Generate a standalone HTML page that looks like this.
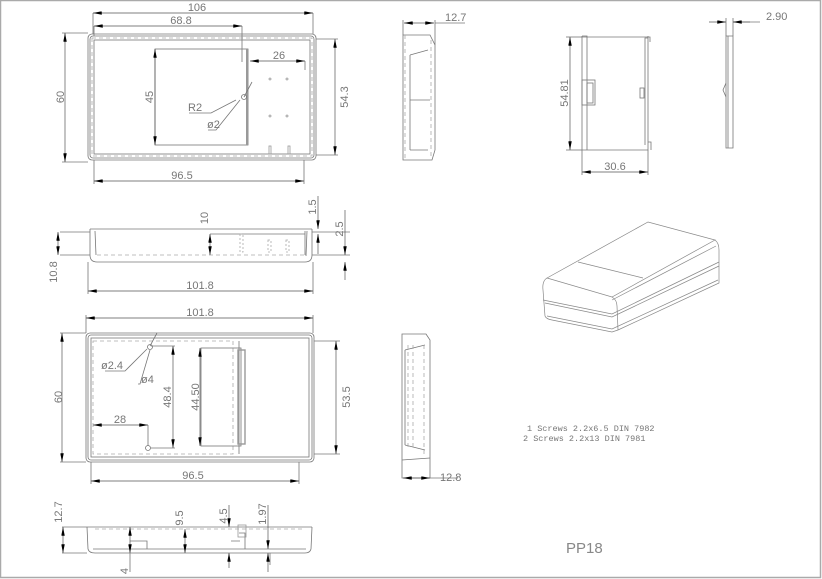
<!DOCTYPE html>
<html><head><meta charset="utf-8"><style>
html,body{margin:0;padding:0;background:#fff;}
svg{display:block}
text{font-family:"Liberation Sans",sans-serif;fill:#777;font-size:11px;}
</style></head><body>
<svg width="822" height="579" viewBox="0 0 822 579" xmlns="http://www.w3.org/2000/svg">
<defs>
<marker id="a" viewBox="0 0 10 4" refX="10" refY="2" markerWidth="9" markerHeight="3.5" orient="auto-start-reverse" markerUnits="userSpaceOnUse"><path d="M0,0L10,2L0,4z" fill="#000"/></marker>
</defs>
<rect x="0.5" y="0.5" width="820" height="577" fill="none" stroke="#aaa" stroke-width="1.5"/>
<g fill="none" stroke="#777" stroke-width="0.8">
<!-- VIEW 1 -->
<rect x="88" y="34" width="228" height="126" rx="4"/>
<rect x="90" y="36" width="224" height="122" rx="3"/>
<rect x="92" y="38" width="220" height="118" stroke-dasharray="4,3" stroke="#aaa"/>
<rect x="94" y="40" width="216" height="114"/>
<rect x="155" y="49" width="93" height="96"/>
<line x1="247" y1="49" x2="247" y2="145" stroke="#999" stroke-width="2"/>
<line x1="242" y1="26" x2="242" y2="62"/>
<line x1="94" y1="26" x2="94" y2="36"/>
<line x1="93" y1="13" x2="93" y2="34"/><line x1="313" y1="13" x2="313" y2="34"/>
<line x1="94" y1="160" x2="94" y2="184"/><line x1="304" y1="160" x2="304" y2="184"/>
<line x1="316" y1="39" x2="338" y2="39"/><line x1="316" y1="155" x2="338" y2="155"/>
<line x1="62" y1="33" x2="88" y2="33"/><line x1="62" y1="162" x2="88" y2="162"/>
<line x1="305" y1="61" x2="305" y2="70"/>
<circle cx="244" cy="97" r="2.5"/>
<path d="M189,113L211,113L236,100M208,130L216,130L240,100M244,97L252,82"/>
<g stroke="#999"><circle cx="270" cy="79" r="1"/><circle cx="287" cy="79" r="1"/><circle cx="270" cy="116" r="1"/><circle cx="287" cy="116" r="1"/>
<rect x="269" y="146" width="2" height="8"/><rect x="288" y="146" width="2" height="8"/></g>
<!-- VIEW 2 side -->
<line x1="90" y1="229" x2="312" y2="229"/>
<path d="M90,229L90,255Q90,262 97,262L305,262Q312,262 312,255L312,229"/>
<line x1="97" y1="255" x2="305" y2="255" stroke-dasharray="4,3" stroke="#aaa"/>
<line x1="210" y1="234" x2="305" y2="234"/>
<path d="M95,231L96,255M305,231L305,255M307,231L306,256"/>
<line x1="60" y1="232" x2="90" y2="232"/><line x1="60" y1="255" x2="90" y2="255"/>
<line x1="88" y1="262" x2="88" y2="294"/><line x1="313" y1="262" x2="313" y2="294"/>
<line x1="312" y1="232" x2="350" y2="232"/><line x1="312" y1="255" x2="350" y2="255"/>
<g stroke="#aaa" stroke-dasharray="2,2"><rect x="240" y="234" width="3" height="18"/><rect x="268" y="240" width="3" height="12"/><rect x="286" y="240" width="3" height="12"/></g>
<!-- VIEW 3 -->
<rect x="86" y="333" width="228" height="129" rx="4"/>
<rect x="88" y="335" width="224" height="125" rx="3"/>
<rect x="91" y="338" width="218" height="119"/>
<rect x="93" y="341" width="140" height="113" stroke-dasharray="4,3" stroke="#aaa"/>
<line x1="239" y1="341" x2="239" y2="454"/>
<rect x="201" y="348" width="40" height="98"/>
<rect x="238" y="350" width="7" height="94" stroke="#999" stroke-width="1.4"/>
<circle cx="150" cy="347" r="2.5"/><circle cx="148" cy="448" r="2.5"/>
<path d="M105,371L125,371L147,349M138,384L140,384L150,350M150,346L157,333"/>
<line x1="151" y1="346" x2="175" y2="346"/><line x1="151" y1="448" x2="175" y2="448"/>
<line x1="148" y1="425" x2="148" y2="446"/>
<line x1="86" y1="315" x2="86" y2="333"/><line x1="313" y1="315" x2="313" y2="333"/>
<line x1="91" y1="462" x2="91" y2="484"/><line x1="299" y1="462" x2="299" y2="484"/>
<line x1="60" y1="333" x2="86" y2="333"/><line x1="60" y1="462" x2="86" y2="462"/>
<line x1="314" y1="341" x2="340" y2="341"/><line x1="314" y1="454" x2="340" y2="454"/>
<!-- VIEW 4 -->
<line x1="87" y1="527" x2="312" y2="527"/>
<path d="M87,527L88,549Q89,553 95,553L305,553Q310,553 311,549L312,527"/>
<line x1="95" y1="529" x2="305" y2="529" stroke-dasharray="4,3" stroke="#aaa"/>
<line x1="93" y1="549" x2="306" y2="549"/>
<path d="M130,541L147,541L147,549M239,533L245,533L245,549M231,541L240,541"/>
<rect x="238" y="525" width="8" height="12" stroke="#999"/>
<line x1="62" y1="527" x2="87" y2="527"/><line x1="62" y1="553" x2="87" y2="553"/>
<line x1="130" y1="553" x2="130" y2="572"/><line x1="270" y1="553" x2="270" y2="565"/>
<!-- right side views -->
<path d="M403,35L403,160L432,160L435,150L435,45L430,35Z"/>
<path d="M405,35L405,160M431,40L431,156" stroke-dasharray="4,3" stroke="#aaa"/>
<path d="M410,55L428,50M410,150L428,150M410,100L430,100M410,55L410,150"/>
<line x1="403" y1="20" x2="403" y2="35"/><line x1="435" y1="20" x2="435" y2="45"/>
<line x1="435" y1="23" x2="465" y2="23"/>
<path d="M582,36L582,150L648,150L648,36"/>
<path d="M582,36L587,36L587,150M648,38L645,38L645,145"/>
<path d="M582,37L650,37L650,42M648,142L651,142L651,150"/>
<rect x="582" y="80" width="13" height="25"/><rect x="587" y="83" width="6" height="20"/>
<rect x="640" y="88" width="4" height="10"/>
<line x1="566" y1="37" x2="582" y2="37"/><line x1="566" y1="150" x2="582" y2="150"/>
<line x1="582" y1="150" x2="582" y2="175"/><line x1="648" y1="150" x2="648" y2="175"/>
<path d="M726,36L733,36L733,148L726,148Z"/><line x1="728" y1="36" x2="728" y2="148"/>
<path d="M726,83L723,90L726,97"/>
<line x1="726" y1="18" x2="726" y2="36"/><line x1="733" y1="18" x2="733" y2="36"/>
<line x1="733" y1="22" x2="760" y2="22"/>
<path d="M402,334L402,478L430,478L430,340L426,334Z"/>
<path d="M405,350L425,345M405,445L425,450M405,350L405,445" />
<path d="M408,345L408,450M413,345L413,450M424,345L424,455" stroke-dasharray="4,3" stroke="#aaa"/>
<path d="M402,460L430,458"/>
<line x1="430" y1="478" x2="458" y2="478"/>
<!-- iso -->
<g stroke="#888" stroke-width="0.7">
<path d="M547,278L648,222L715,240L612,297Z"/>
<path d="M578,262L643,278"/>
<path d="M715,240Q719,243 719,250L719,283L618,330"/>
<path d="M547,278Q542,281 543,290L545,316Q546,319 552,320L612,332L618,330"/>
<path d="M612,297Q617,300 617,306L618,330"/>
<path d="M543,300L612,314L719,262"/>
<path d="M545,303L612,317L719,266"/>
<path d="M547,316L612,329L718,280"/>
<path d="M612,300L716,246"/>
</g>
</g>
<!-- dimension lines with arrows -->
<g stroke="#555" stroke-width="0.7" fill="none" marker-start="url(#a)" marker-end="url(#a)">
<line x1="93" y1="13" x2="313" y2="13"/>
<line x1="94" y1="26" x2="242" y2="26"/>
<line x1="250" y1="61" x2="305" y2="61"/>
<line x1="155" y1="49" x2="155" y2="145"/>
<line x1="65" y1="33" x2="65" y2="162"/>
<line x1="335" y1="39" x2="335" y2="155"/>
<line x1="94" y1="181" x2="304" y2="181"/>
<line x1="58" y1="232" x2="58" y2="255"/>
<line x1="210" y1="234" x2="210" y2="255"/>
<line x1="88" y1="291" x2="313" y2="291"/>
<line x1="86" y1="318" x2="313" y2="318"/>
<line x1="62" y1="333" x2="62" y2="462"/>
<line x1="336" y1="341" x2="336" y2="454"/>
<line x1="173" y1="346" x2="173" y2="448"/>
<line x1="200" y1="348" x2="200" y2="446"/>
<line x1="93" y1="425" x2="148" y2="425"/>
<line x1="91" y1="481" x2="299" y2="481"/>
<line x1="63" y1="527" x2="63" y2="553"/>
<line x1="130" y1="527" x2="130" y2="553"/>
<line x1="185" y1="529" x2="185" y2="553"/>
<line x1="570" y1="37" x2="570" y2="150"/>
<line x1="582" y1="172" x2="648" y2="172"/>
</g>
<g stroke="#555" stroke-width="0.7" fill="none">
<line x1="404" y1="23" x2="434" y2="23" marker-start="url(#a)" marker-end="url(#a)"/>
<line x1="403" y1="478" x2="430" y2="478" marker-start="url(#a)" marker-end="url(#a)"/>
<path d="M709,22L726,22" marker-end="url(#a)"/><path d="M750,22L733,22" marker-end="url(#a)"/>
<path d="M318,196L318,229" marker-end="url(#a)"/><path d="M318,254L318,234" marker-end="url(#a)"/>
<path d="M345,210L345,255" marker-end="url(#a)"/><path d="M345,280L345,262" marker-end="url(#a)"/>
<path d="M229,505L229,527" marker-end="url(#a)"/><path d="M229,568L229,553" marker-end="url(#a)"/>
<path d="M268,505L268,549" marker-end="url(#a)"/><path d="M268,572L268,553" marker-end="url(#a)"/>
</g>
<!-- texts -->
<text x="197" y="11" text-anchor="middle">106</text>
<text x="181" y="24" text-anchor="middle">68.8</text>
<text x="279" y="59" text-anchor="middle">26</text>
<text x="188" y="111">R2</text>
<text x="207" y="128">ø2</text>
<text x="182" y="179" text-anchor="middle">96.5</text>
<text transform="translate(153,97) rotate(-90)" text-anchor="middle">45</text>
<text transform="translate(64,97) rotate(-90)" text-anchor="middle">60</text>
<text transform="translate(348,97) rotate(-90)" text-anchor="middle">54.3</text>
<text transform="translate(208,218) rotate(-90)" text-anchor="middle">10</text>
<text transform="translate(316,207) rotate(-90)" text-anchor="middle">1.5</text>
<text transform="translate(343,229) rotate(-90)" text-anchor="middle">2.5</text>
<text transform="translate(57,272) rotate(-90)" text-anchor="middle">10.8</text>
<text x="200" y="289" text-anchor="middle">101.8</text>
<text x="200" y="316" text-anchor="middle">101.8</text>
<text x="101" y="369">ø2.4</text>
<text x="141" y="383">ø4</text>
<text x="120" y="423" text-anchor="middle">28</text>
<text x="193" y="479" text-anchor="middle">96.5</text>
<text transform="translate(62,397) rotate(-90)" text-anchor="middle">60</text>
<text transform="translate(171,397) rotate(-90)" text-anchor="middle">48.4</text>
<text transform="translate(199,397) rotate(-90)" text-anchor="middle">44.50</text>
<text transform="translate(350,397) rotate(-90)" text-anchor="middle">53.5</text>
<text transform="translate(62,512) rotate(-90)" text-anchor="middle">12.7</text>
<text transform="translate(183,518) rotate(-90)" text-anchor="middle">9.5</text>
<text transform="translate(227,516) rotate(-90)" text-anchor="middle">4.5</text>
<text transform="translate(266,514) rotate(-90)" text-anchor="middle">1.97</text>
<text transform="translate(128,571) rotate(-90)" text-anchor="middle">4</text>
<text x="445" y="21">12.7</text>
<text transform="translate(568,93) rotate(-90)" text-anchor="middle">54.81</text>
<text x="615" y="170" text-anchor="middle">30.6</text>
<text x="766" y="20">2.90</text>
<text x="440" y="481">12.8</text>
<text x="527" y="431" style="font-family:'Liberation Mono',monospace;font-size:8.5px">1 Screws 2.2x6.5  DIN 7982</text>
<text x="523" y="441" style="font-family:'Liberation Mono',monospace;font-size:8.5px">2 Screws 2.2x13 DIN 7981</text>
<text x="566" y="553" style="font-size:15px;fill:#888">PP18</text>
</svg>
</body></html>
